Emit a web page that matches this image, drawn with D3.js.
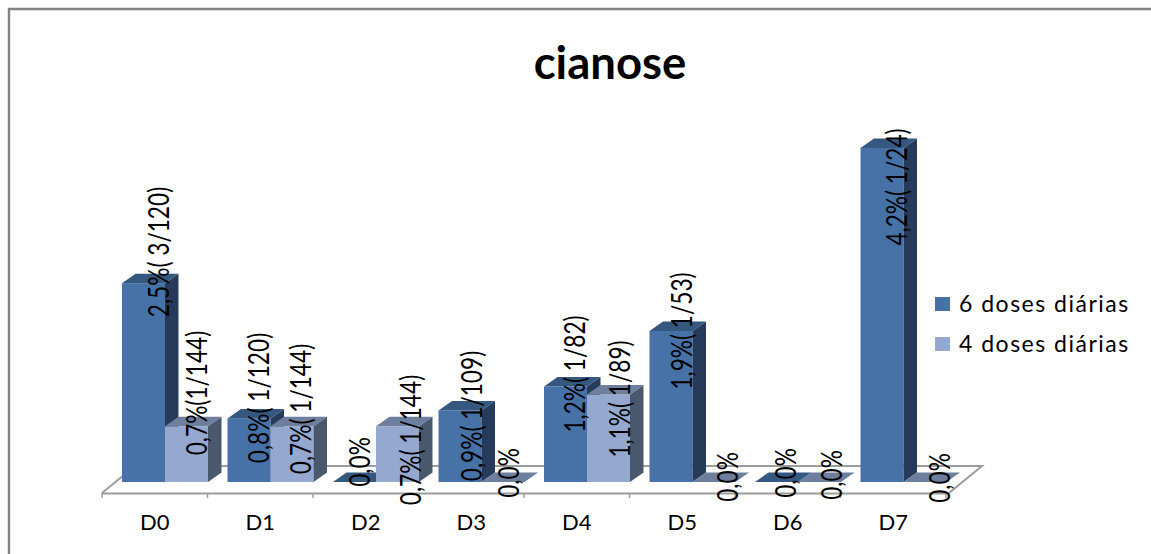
<!DOCTYPE html>
<html>
<head>
<meta charset="utf-8">
<script src="https://cdn.jsdelivr.net/npm/d3@7"></script>
<style>
html, body { margin: 0; padding: 0; background: #fff; }
svg { display: block; }
text { font-family: Lato, "Open Sans", sans-serif; fill: #000; }
</style>
</head>
<body>
<script>
// Daily cyanosis rates by study day, for the two dosing regimens.
const days = ["D0", "D1", "D2", "D3", "D4", "D5", "D6", "D7"];
const seriesNames = ["6 doses diárias", "4 doses diárias"];
const sixDoses = [2.5, 0.8, 0.0, 0.9, 1.2, 1.9, 0.0, 4.2];
const fourDoses = [0.7, 0.7, 0.7, 0.0, 1.1, 0.0, 0.0, 0.0];
const sixLabels = ["2,5%( 3/120)", "0,8%( 1/120)", "0,0%", "0,9%( 1/109)", "1,2%( 1/82)", "1,9%( 1/53)", "0,0%", "4,2%( 1/24)"];
const fourLabels = ["0,7%(1/144)", "0,7%( 1/144)", "0,7%( 1/144)", "0,0%", "1,1%( 1/89)", "0,0%", "0,0%", "0,0%"];

// Hand placement of the rotated data labels: centre x, centre y.
const sixLabelPlace = [[158, 252], [258, 398], [359, 462], [471, 416], [574, 374], [681, 331], [785, 473], [896, 187]];
const fourLabelPlace = [[196, 393], [300, 409], [410, 440], [508, 473], [619, 399], [727, 477], [831, 475], [939, 478]];

const width = 1151, height = 554;
const depthX = 13.5, depthY = 9.5;
const floorX = 33, floorY = 27;
const axisY = 493, baseY = 482;

const palettes = [
  { front: "#4672A8", top: "#345880", side: "#253B59" },
  { front: "#95A9D0", top: "#6E7F9E", side: "#4A586E" }
];

const x = d3.scaleBand().domain(days).range([102, 946]);
const inner = d3.scaleBand().domain(d3.range(2)).range([20, 106]);
const y = d3.scaleLinear().domain([0, 4.2]).range([baseY, 148]);

const svg = d3.select("body").append("svg").attr("width", width).attr("height", height);

// Chart frame: only the top and left edges show.
svg.append("path")
  .attr("d", "M9,554V9H1151")
  .attr("fill", "none").attr("stroke", "#828282").attr("stroke-width", 2.4);

svg.append("text")
  .attr("x", 610).attr("y", 79).attr("text-anchor", "middle")
  .attr("font-size", 45.5).attr("font-weight", 700).text("cianose");

// Perspective floor behind the bars.
const [axisLeft, axisRight] = x.range();
svg.append("path")
  .attr("d", `M${axisLeft},${axisY}L${axisLeft + floorX},${axisY - floorY}H${axisRight + floorX + 3}L${axisRight + 3},${axisY}`)
  .attr("fill", "none").attr("stroke", "#9C9C9C").attr("stroke-width", 2);

const axis = d3.axisBottom(x).tickSize(0).tickPadding(21);
const axisG = svg.append("g").attr("transform", `translate(0,${axisY})`).call(axis);
axisG.select(".domain").attr("stroke", "#9C9C9C").attr("stroke-width", 2);
axisG.selectAll(".tick text").attr("font-size", 22).attr("font-family", "Lato");

// Tick marks fall on the band boundaries, not their centres.
svg.append("g").selectAll("line")
  .data(d3.range(days.length + 1))
  .join("line")
  .attr("x1", i => axisLeft + i * x.step())
  .attr("x2", i => axisLeft + i * x.step())
  .attr("y1", axisY).attr("y2", axisY + 5)
  .attr("stroke", "#9C9C9C").attr("stroke-width", 1.5);

// One record per bar, ordered so nearer bars paint over their neighbours.
const bars = [];
days.forEach((day, i) => {
  bars.push({ day, s: 0, value: sixDoses[i], label: sixLabels[i], place: sixLabelPlace[i] });
  bars.push({ day, s: 1, value: fourDoses[i], label: fourLabels[i], place: fourLabelPlace[i] });
});

const barG = svg.append("g").selectAll("g").data(bars).join("g");

barG.each(function (d) {
  const g = d3.select(this);
  const x0 = x(d.day) + inner(d.s);
  const x1 = x0 + inner.bandwidth();
  const yTop = y(d.value);
  const pal = palettes[d.s];
  if (d.value > 0) {
    g.append("rect").attr("x", x0).attr("y", yTop)
      .attr("width", x1 - x0).attr("height", baseY - yTop).attr("fill", pal.front);
    g.append("path")
      .attr("d", `M${x1},${yTop}l${depthX},${-depthY}V${baseY - depthY}L${x1},${baseY}Z`)
      .attr("fill", pal.side);
  }
  g.append("path")
    .attr("d", `M${x0},${yTop}l${depthX},${-depthY}H${x1 + depthX}L${x1},${yTop}Z`)
    .attr("fill", pal.top);
});

// Data labels sit above every bar, reading bottom to top, condensed along the run.
svg.append("g").selectAll("text").data(bars).join("text")
  .attr("transform", d => `translate(${d.place[0]},${d.place[1]}) rotate(-90) scale(0.81,1)`)
  .attr("text-anchor", "middle").attr("dominant-baseline", "central")
  .attr("font-size", 28).text(d => d.label);

// Legend
const legend = svg.append("g").selectAll("g").data(seriesNames).join("g")
  .attr("transform", (d, i) => `translate(935,${297 + i * 40})`);
legend.append("rect").attr("width", 15).attr("height", 14)
  .attr("fill", (d, i) => palettes[i].front);
legend.append("text").attr("x", 24).attr("y", 15)
  .attr("font-size", 23).attr("letter-spacing", 1.5).text(d => d);
</script>
</body>
</html>
